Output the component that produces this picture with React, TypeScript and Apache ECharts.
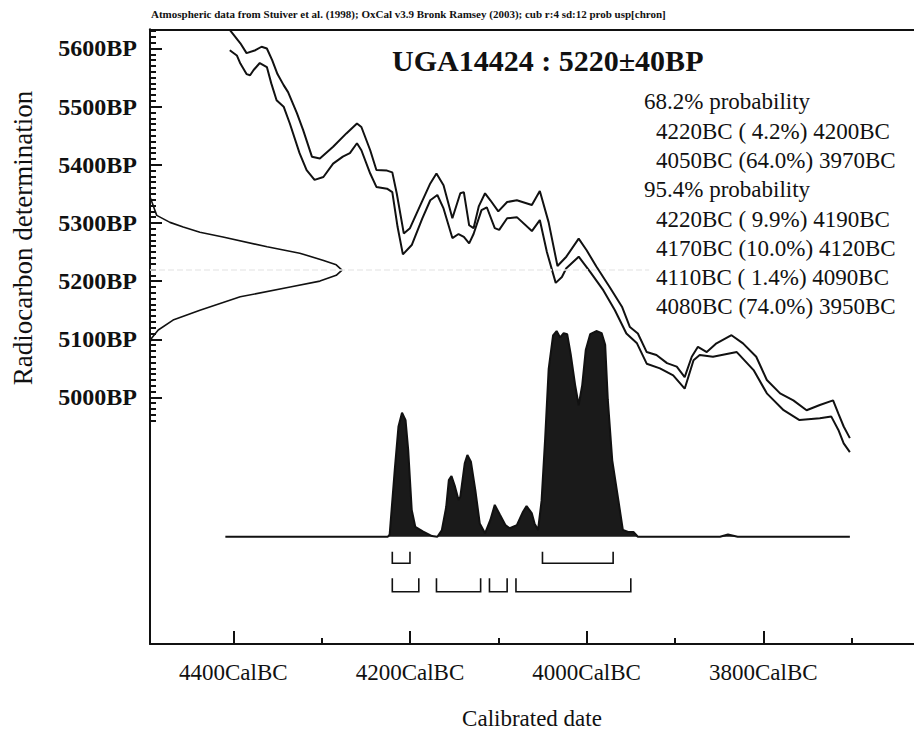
import React, { useEffect, useRef } from "react";
import * as echarts from "echarts";

const HEADER =
  "Atmospheric data from Stuiver et al. (1998); OxCal v3.9 Bronk Ramsey (2003); cub r:4 sd:12 prob usp[chron]";
const TITLE = "UGA14424 : 5220±40BP";
const MEASURED_BP = 5220;
const Y_NAME = "Radiocarbon determination";
const X_NAME = "Calibrated date";

const bpTicks = [5000, 5100, 5200, 5300, 5400, 5500, 5600];
const bpMinorRange = [4960, 5630];
const calTicks = [4400, 4200, 4000, 3800];
const calMinorTicks = [4300, 4100, 3900, 3700];

// calibration curve envelope [cal BC, BP]
const curveUpper: number[][] = [
  [4404, 5632], [4392, 5609], [4385, 5592], [4375, 5597], [4368, 5603], [4362, 5600],
  [4356, 5580], [4350, 5556], [4343, 5537], [4338, 5525], [4328, 5489], [4321, 5460],
  [4311, 5414], [4302, 5411], [4287, 5431], [4272, 5454], [4260, 5471], [4255, 5465],
  [4245, 5425], [4238, 5391], [4226, 5390], [4220, 5387], [4215, 5351], [4207, 5282],
  [4200, 5291], [4189, 5328], [4177, 5368], [4170, 5385], [4162, 5365], [4152, 5308],
  [4143, 5351], [4139, 5353], [4133, 5296], [4128, 5291], [4122, 5329], [4115, 5351],
  [4109, 5339], [4100, 5320], [4090, 5336], [4079, 5339], [4062, 5331], [4053, 5355],
  [4043, 5301], [4033, 5226], [4023, 5242], [4009, 5273], [4000, 5253], [3989, 5225],
  [3974, 5190], [3960, 5156], [3951, 5121], [3942, 5110], [3932, 5078], [3921, 5073],
  [3909, 5059], [3898, 5053], [3889, 5035], [3881, 5070], [3874, 5087], [3864, 5078],
  [3853, 5093], [3836, 5107], [3823, 5093], [3808, 5070], [3796, 5030], [3781, 5007],
  [3766, 4995], [3751, 4978], [3736, 4987], [3721, 4995], [3715, 4972], [3709, 4950],
  [3702, 4930],
];
const curveLower: number[][] = [
  [4404, 5597], [4396, 5588], [4392, 5574], [4385, 5556], [4381, 5554], [4377, 5563],
  [4370, 5575], [4362, 5568], [4357, 5540], [4351, 5511], [4343, 5500], [4336, 5471],
  [4325, 5420], [4317, 5391], [4308, 5374], [4298, 5379], [4287, 5402], [4276, 5414],
  [4268, 5420], [4260, 5437], [4255, 5425], [4245, 5385], [4238, 5362], [4226, 5359],
  [4220, 5353], [4214, 5293], [4208, 5246], [4198, 5262], [4186, 5308], [4177, 5339],
  [4169, 5348], [4162, 5325], [4152, 5274], [4145, 5281], [4139, 5276], [4133, 5265],
  [4128, 5281], [4119, 5322], [4113, 5327], [4104, 5291], [4099, 5288], [4090, 5308],
  [4079, 5310], [4062, 5286], [4053, 5305], [4045, 5250], [4035, 5197], [4028, 5207],
  [4023, 5222], [4009, 5242], [3996, 5216], [3981, 5184], [3968, 5150], [3955, 5110],
  [3943, 5093], [3932, 5058], [3917, 5050], [3902, 5038], [3889, 5015], [3879, 5064],
  [3872, 5073], [3857, 5070], [3830, 5078], [3811, 5047], [3796, 5007], [3777, 4978],
  [3759, 4961], [3736, 4964], [3723, 4967], [3715, 4944], [3709, 4921], [3702, 4906],
];

// calibrated probability [cal BC, relative probability]
const probDist: number[][] = [
  [4409, 0], [4225, 0], [4223, 0.01], [4217, 0.327], [4213, 0.52], [4209, 0.585],
  [4205, 0.55], [4202, 0.41], [4198, 0.126], [4194, 0.047], [4185, 0.024], [4175, 0.003],
  [4169, 0], [4164, 0.03], [4159, 0.14], [4156, 0.267], [4153, 0.286], [4149, 0.236],
  [4145, 0.173], [4143, 0.189], [4138, 0.346], [4135, 0.385], [4131, 0.354], [4126, 0.22],
  [4121, 0.063], [4115, 0.016], [4109, 0.079], [4104, 0.15], [4098, 0.102], [4092, 0.055],
  [4087, 0.04], [4079, 0.055], [4072, 0.118], [4068, 0.145], [4062, 0.11], [4059, 0.063],
  [4055, 0.032], [4051, 0.17], [4047, 0.46], [4043, 0.79], [4038, 0.95], [4034, 0.97],
  [4030, 0.94], [4026, 0.96], [4022, 0.955], [4018, 0.86], [4013, 0.715], [4009, 0.62],
  [4005, 0.715], [4001, 0.88], [3996, 0.955], [3989, 0.97], [3983, 0.96], [3979, 0.905],
  [3976, 0.645], [3971, 0.36], [3964, 0.17], [3959, 0.032], [3953, 0.022], [3947, 0.022],
  [3942, 0], [3849, 0], [3840, 0.01], [3829, 0], [3702, 0],
];

// radiocarbon measurement distribution [relative width, BP]
const measuredDist: number[][] = [
  [0, 5345], [0.035, 5313], [0.104, 5301], [0.173, 5293], [0.26, 5284], [0.38, 5276],
  [0.61, 5259], [0.78, 5248], [0.9, 5236], [0.97, 5228], [1, 5219], [0.97, 5210],
  [0.885, 5200], [0.73, 5190], [0.47, 5173], [0.26, 5150], [0.12, 5133], [0.043, 5116],
  [0.009, 5102], [0, 5095],
];

// ranges [from BC, to BC, percent]
const range68: number[][] = [
  [4220, 4200, 4.2],
  [4050, 3970, 64.0],
];
const range95: number[][] = [
  [4220, 4190, 9.9],
  [4170, 4120, 10.0],
  [4110, 4090, 1.4],
  [4080, 3950, 74.0],
];

const FONT = '"Liberation Serif", "Times New Roman", serif';
const INK = "#111";

function rangeText(r: number[]): string {
  const pct = r[2].toFixed(1);
  return `${r[0]}BC (${r[2] < 10 ? " " : ""}${pct}%) ${r[1]}BC`;
}

export default function App() {
  const ref = useRef<HTMLDivElement>(null);

  useEffect(() => {
    if (!ref.current) return;
    const chart = echarts.init(ref.current, undefined, { renderer: "svg" });

    const bpMinor: number[] = [];
    for (let v = bpMinorRange[0]; v <= bpMinorRange[1]; v += 10) {
      if (v % 100 !== 0) bpMinor.push(v);
    }

    const calMin = 3629.4;
    const calMax = 4494.3;
    const bpMin = 4576;
    const bpMax = 5633;

    const textLines: { t: string; x: number }[] = [
      { t: "68.2% probability", x: 644 },
      ...range68.map((r) => ({ t: rangeText(r), x: 656 })),
      { t: "95.4% probability", x: 644 },
      ...range95.map((r) => ({ t: rangeText(r), x: 656 })),
    ];

    const bracketData = [
      ...range68.map((r) => [r[0], r[1], 0]),
      ...range95.map((r) => [r[0], r[1], 1]),
    ];

    const graphics: any[] = [
      {
        type: "text",
        x: 151,
        y: 14,
        style: {
          text: HEADER,
          fontSize: 11,
          fontWeight: "bold",
          fontFamily: FONT,
          fill: INK,
          align: "left",
          verticalAlign: "middle",
        },
      },
      {
        type: "text",
        x: 392,
        y: 60,
        style: {
          text: TITLE,
          fontSize: 30,
          fontWeight: "bold",
          fontFamily: FONT,
          fill: INK,
          align: "left",
          verticalAlign: "middle",
        },
      },
      ...textLines.map((l, i) => ({
        type: "text",
        x: l.x,
        y: 101.8 + 29.3 * i,
        style: {
          text: l.t,
          fontSize: 23,
          fontFamily: FONT,
          fill: INK,
          align: "left",
          verticalAlign: "middle",
        },
      })),
      {
        type: "text",
        x: 23,
        y: 238,
        rotation: Math.PI / 2,
        style: {
          text: Y_NAME,
          fontSize: 27,
          fontFamily: FONT,
          fill: INK,
          align: "center",
          verticalAlign: "middle",
        },
      },
      {
        type: "text",
        x: 532,
        y: 718,
        style: {
          text: X_NAME,
          fontSize: 23,
          fontFamily: FONT,
          fill: INK,
          align: "center",
          verticalAlign: "middle",
        },
      },
    ];

    const noZero = { onZero: false };

    chart.setOption({
      animation: false,
      backgroundColor: "#fff",
      grid: { left: 150, right: 0, top: 29.3, bottom: 90, containLabel: false },
      xAxis: [
        {
          type: "value",
          position: "bottom",
          inverse: true,
          min: calMin,
          max: calMax,
          axisLine: { show: true, onZero: false, lineStyle: { color: INK, width: 2 } },
          axisTick: {
            show: true,
            inside: true,
            length: 13,
            customValues: calTicks,
            lineStyle: { color: INK, width: 2 },
          },
          axisLabel: {
            show: true,
            customValues: calTicks,
            formatter: (v: number) => `${v}CalBC`,
            fontSize: 23,
            fontFamily: FONT,
            color: INK,
            margin: 17,
          },
          splitLine: { show: false },
        },
        {
          type: "value",
          position: "bottom",
          inverse: true,
          min: calMin,
          max: calMax,
          axisLine: { show: false, ...noZero },
          axisTick: {
            show: true,
            inside: true,
            length: 6,
            customValues: calMinorTicks,
            lineStyle: { color: INK, width: 2 },
          },
          axisLabel: { show: false },
          splitLine: { show: false },
        },
        {
          type: "value",
          position: "bottom",
          show: false,
          min: 0,
          max: 764 / 192,
          axisLine: { show: false, ...noZero },
        },
        {
          type: "value",
          position: "top",
          min: 0,
          max: 1,
          axisLine: { show: true, onZero: false, lineStyle: { color: INK, width: 2 } },
          axisTick: { show: false },
          axisLabel: { show: false },
          splitLine: { show: false },
        },
      ],
      yAxis: [
        {
          type: "value",
          position: "left",
          min: bpMin,
          max: bpMax,
          axisLine: { show: true, onZero: false, lineStyle: { color: INK, width: 2 } },
          axisTick: {
            show: true,
            inside: true,
            length: 12,
            customValues: bpTicks,
            lineStyle: { color: INK, width: 2 },
          },
          axisLabel: {
            show: true,
            customValues: bpTicks,
            formatter: (v: number) => `${v}BP`,
            fontSize: 24,
            fontWeight: "bold",
            fontFamily: FONT,
            color: INK,
            margin: 13,
          },
          splitLine: { show: false },
        },
        {
          type: "value",
          position: "left",
          min: bpMin,
          max: bpMax,
          axisLine: { show: false, ...noZero },
          axisTick: {
            show: true,
            inside: true,
            length: 6,
            customValues: bpMinor,
            lineStyle: { color: INK, width: 2 },
          },
          axisLabel: { show: false },
          splitLine: { show: false },
        },
        {
          type: "value",
          position: "left",
          show: false,
          min: -0.506,
          max: 2.393,
          axisLine: { show: false, ...noZero },
        },
      ],
      graphic: graphics,
      series: [
        {
          type: "line",
          name: "upper",
          xAxisIndex: 0,
          yAxisIndex: 0,
          data: curveUpper,
          showSymbol: false,
          silent: true,
          lineStyle: { color: INK, width: 2 },
          clip: true,
        },
        {
          type: "line",
          name: "lower",
          xAxisIndex: 0,
          yAxisIndex: 0,
          data: curveLower,
          showSymbol: false,
          silent: true,
          lineStyle: { color: INK, width: 2 },
          clip: true,
        },
        {
          type: "line",
          name: "measurement",
          xAxisIndex: 2,
          yAxisIndex: 0,
          data: measuredDist,
          showSymbol: false,
          silent: true,
          lineStyle: { color: INK, width: 1.6 },
          markLine: {
            silent: true,
            symbol: "none",
            label: { show: false },
            lineStyle: { color: "#ececec", width: 1.5, type: "dashed" },
            data: [[{ coord: [0, MEASURED_BP] }, { coord: [2.6, MEASURED_BP] }]],
          },
        },
        {
          type: "line",
          name: "probability",
          xAxisIndex: 0,
          yAxisIndex: 2,
          data: probDist,
          showSymbol: false,
          silent: true,
          lineStyle: { color: INK, width: 2 },
          areaStyle: { color: "#1a1a1a", opacity: 1 },
        },
        {
          type: "custom",
          name: "ranges",
          xAxisIndex: 0,
          yAxisIndex: 2,
          silent: true,
          data: bracketData,
          renderItem: (_params: any, api: any) => {
            const s = api.coord([api.value(0), 0]);
            const e = api.coord([api.value(1), 0]);
            const row = api.value(2);
            const top = s[1] + (row === 0 ? 15 : 41.5);
            const bot = s[1] + (row === 0 ? 26.5 : 55);
            return {
              type: "polyline",
              shape: {
                points: [
                  [s[0], top],
                  [s[0], bot],
                  [e[0], bot],
                  [e[0], top],
                ],
              },
              style: { stroke: INK, lineWidth: 1.6, fill: "none" },
            };
          },
        },
      ],
    });

    return () => chart.dispose();
  }, []);

  return (
    <div
      ref={ref}
      style={{ position: "fixed", left: 0, top: 0, width: 914, height: 734, background: "#fff" }}
    />
  );
}
